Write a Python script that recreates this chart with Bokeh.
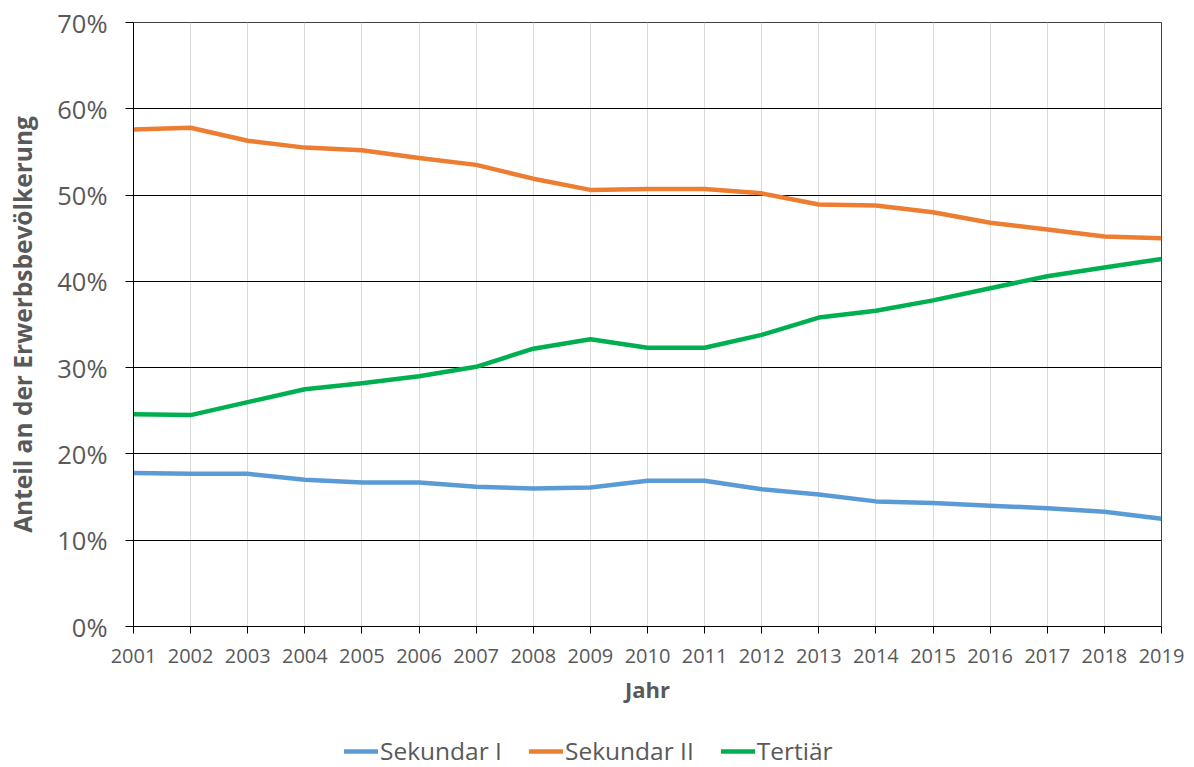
from bokeh.plotting import figure
from bokeh.layouts import column
from bokeh.models import FixedTicker, PrintfTickFormatter, Legend, LegendItem, Range1d
from bokeh.embed import file_html
from bokeh.resources import INLINE

years = list(range(2001, 2020))
sekundar_1 = [17.8, 17.7, 17.7, 17.0, 16.7, 16.7, 16.2, 16.0, 16.1, 16.9, 16.9,
              15.9, 15.3, 14.5, 14.3, 14.0, 13.7, 13.3, 12.5]
sekundar_2 = [57.6, 57.8, 56.3, 55.5, 55.2, 54.3, 53.5, 51.9, 50.6, 50.7, 50.7,
              50.2, 48.9, 48.8, 48.0, 46.8, 46.0, 45.2, 45.0]
tertiaer = [24.6, 24.5, 26.0, 27.5, 28.2, 29.0, 30.1, 32.2, 33.3, 32.3, 32.3,
            33.8, 35.8, 36.6, 37.8, 39.2, 40.6, 41.6, 42.6]
series_names = ["Sekundar I", "Sekundar II", "Tertiär"]
y_ticks = [0, 10, 20, 30, 40, 50, 60, 70]

FONT = "Open Sans"
GREY = "#595959"
colors = ["#5B9BD5", "#ED7D31", "#00B050"]

p = figure(width=1194, height=725, output_backend="svg", toolbar_location=None,
           x_range=Range1d(2001, 2019), y_range=Range1d(0, 70),
           min_border_left=133, min_border_right=33, min_border_top=22,
           min_border_bottom=99)

for vals, c in zip([sekundar_1, sekundar_2, tertiaer], colors):
    p.line(years, vals, line_color=c, line_width=4.5, line_join="round")

p.outline_line_color = "#404040"
p.outline_line_width = 1

p.xgrid.ticker = FixedTicker(ticks=years)
p.xgrid.grid_line_color = "#d9d9d9"
p.xgrid.grid_line_width = 1
p.ygrid.ticker = FixedTicker(ticks=y_ticks)
p.ygrid.grid_line_color = "black"
p.ygrid.grid_line_width = 1

xa = p.xaxis[0]
xa.ticker = FixedTicker(ticks=years)
xa.axis_line_color = "black"
xa.major_tick_line_color = "black"
xa.major_tick_out = 7
xa.major_tick_in = 0
xa.minor_tick_line_color = None
xa.major_label_text_font = FONT
xa.major_label_text_font_size = "20px"
xa.major_label_text_color = GREY
xa.major_label_standoff = 15
xa.axis_label = "Jahr"
xa.axis_label_text_font = FONT
xa.axis_label_text_font_size = "22px"
xa.axis_label_text_font_style = "bold"
xa.axis_label_text_color = GREY
xa.axis_label_standoff = 8

ya = p.yaxis[0]
ya.ticker = FixedTicker(ticks=y_ticks)
ya.formatter = PrintfTickFormatter(format="%d%%")
ya.axis_line_color = "black"
ya.major_tick_line_color = "black"
ya.major_tick_out = 8
ya.major_tick_in = 0
ya.minor_tick_line_color = None
ya.major_label_text_font = FONT
ya.major_label_text_font_size = "25.5px"
ya.major_label_text_color = GREY
ya.major_label_standoff = 18
ya.axis_label = "Anteil an der Erwerbsbevölkerung"
ya.axis_label_text_font = FONT
ya.axis_label_text_font_size = "24.5px"
ya.axis_label_text_font_style = "bold"
ya.axis_label_text_color = GREY
ya.axis_label_standoff = 15

# separate strip for the legend below the chart
lg = figure(width=1194, height=42, output_backend="svg", toolbar_location=None,
            x_range=Range1d(0, 1), y_range=Range1d(0, 1),
            min_border_left=0, min_border_right=0, min_border_top=0, min_border_bottom=0)
lg.axis.visible = False
lg.grid.visible = False
lg.outline_line_color = None
dummies = [lg.line([-10, -9], [-10, -9], line_color=c, line_width=4.5, line_cap="round")
           for c in colors]
legend = Legend(items=[LegendItem(label=n, renderers=[r]) for n, r in zip(series_names, dummies)],
                orientation="horizontal", location=(211, 0),
                label_text_font=FONT, label_text_font_size="24.5px", label_text_color=GREY,
                glyph_width=34, glyph_height=20, label_standoff=2, spacing=27,
                padding=2, margin=0, border_line_color=None, background_fill_alpha=0)
lg.add_layout(legend, "center")

layout = column(p, lg, spacing=0)
open("out.html", "w").write(file_html(layout, INLINE))
